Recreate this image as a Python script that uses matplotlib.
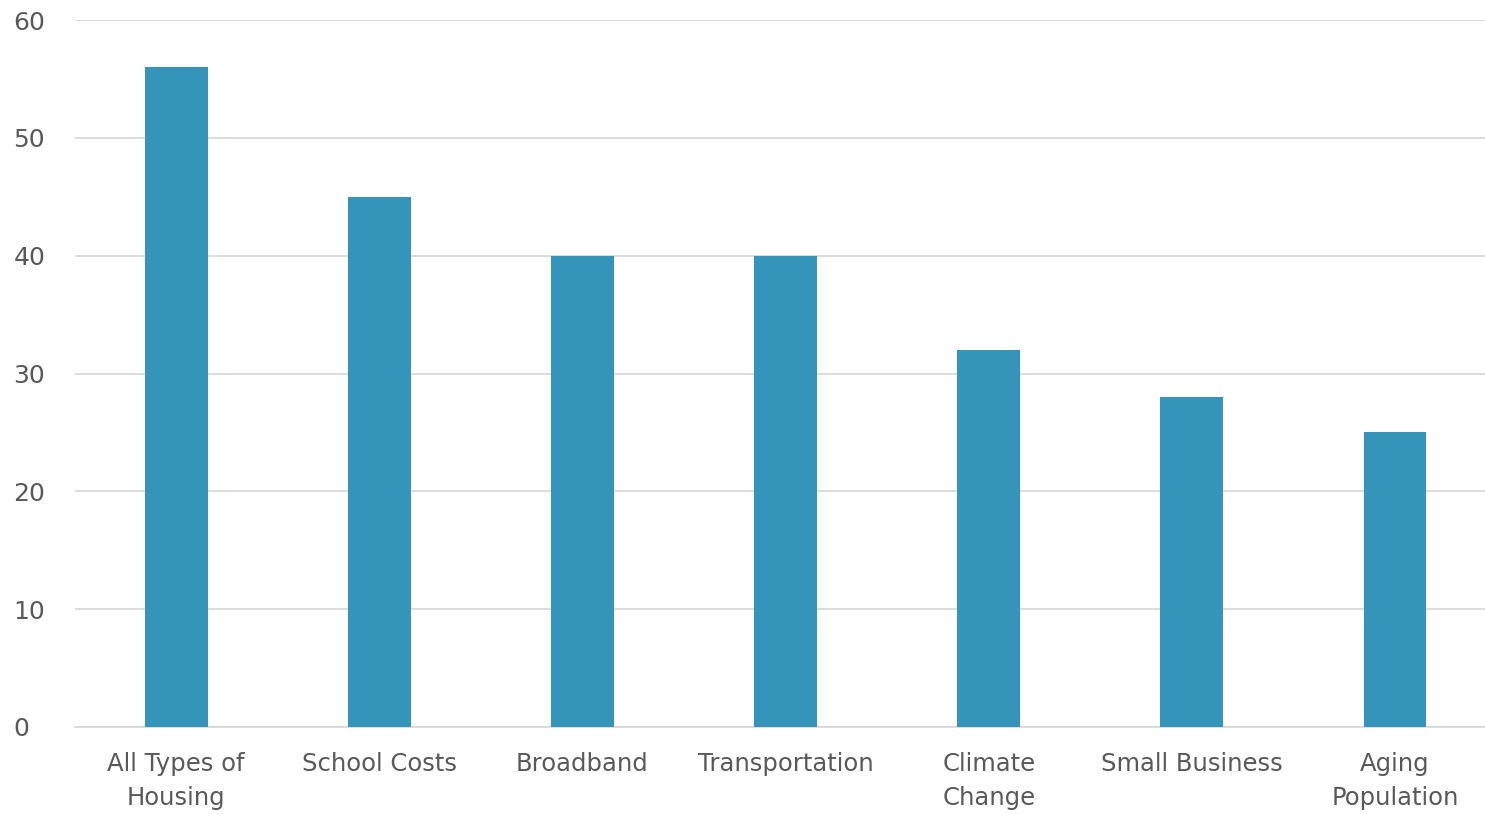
import matplotlib.pyplot as plt

categories = ["All Types of\nHousing", "School Costs", "Broadband", "Transportation",
              "Climate\nChange", "Small Business", "Aging\nPopulation"]
values = [56, 45, 40, 40, 32, 28, 25]

fig = plt.figure(figsize=(14.85, 8.14), dpi=100)
ax = fig.add_axes([0.0502, 0.1069, 0.9576, 0.8685])

ax.bar(range(len(categories)), values, width=0.31, color="#3494BA", zorder=3)

ax.set_xlim(-0.5, len(categories) - 0.5)
ax.set_ylim(0, 60)
ax.set_yticks(range(0, 61, 10))
ax.set_xticks(range(len(categories)))
ax.set_xticklabels(categories, fontsize=17.5, color="#595959", linespacing=1.52)
ax.tick_params(axis="y", labelsize=18, labelcolor="#595959", length=0, pad=44)
ax.tick_params(axis="x", length=0, pad=18)
for lab in ax.get_yticklabels():
    lab.set_horizontalalignment("left")

ax.grid(axis="y", color="#D9D9D9", linewidth=1.3, zorder=0)
for s in ["top", "right", "left"]:
    ax.spines[s].set_visible(False)
ax.spines["bottom"].set_color("#D9D9D9")
ax.spines["bottom"].set_linewidth(1.3)

plt.savefig("out.png", dpi=100)
